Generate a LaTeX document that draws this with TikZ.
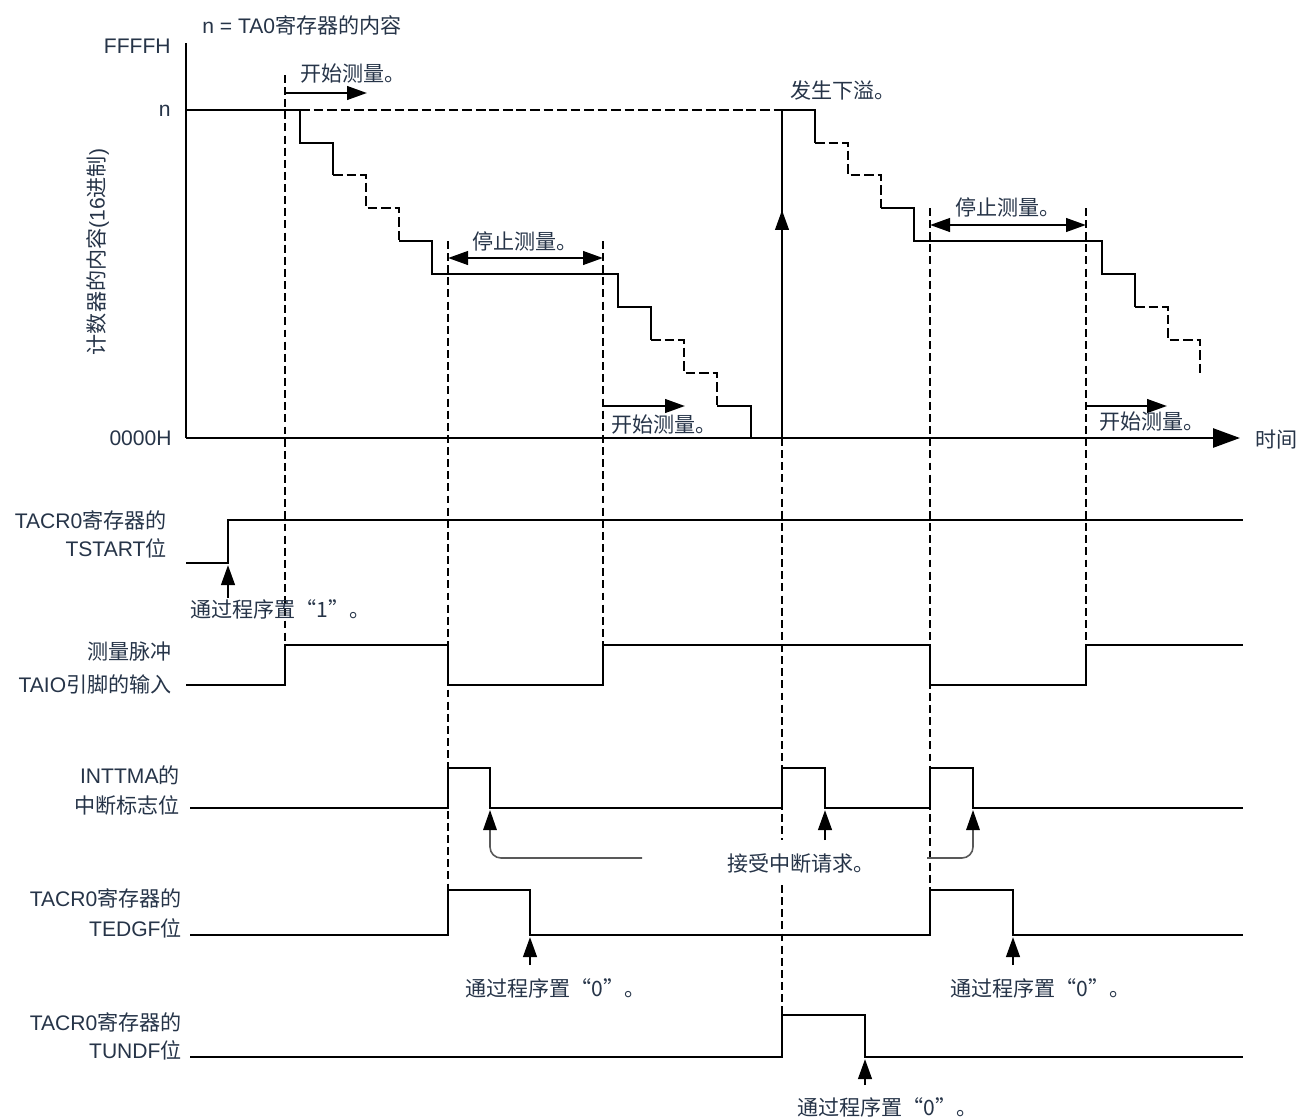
\documentclass[tikz,border=0pt]{standalone}
\usepackage{fontspec}
\setmainfont{Liberation Sans}
\newfontfamily\cjk{Noto Sans CJK SC}
\usetikzlibrary{arrows.meta}
\definecolor{labelblue}{RGB}{38,52,72}

\begin{document}
\begin{tikzpicture}[x=0.02cm,y=-0.02cm,
  sig/.style={line width=1.5pt,line join=miter},
  guide/.style={line width=1.5pt,dash pattern=on 4.5pt off 2.4pt},
  stair/.style={line width=1.5pt,dash pattern=on 5.5pt off 2.2pt},
  lbl/.style={text=labelblue,font=\fontsize{12}{14}\selectfont,inner sep=0pt},
  tip/.style={-{Triangle[length=0.4cm,width=0.27cm]}},
  both/.style={{Triangle[length=0.4cm,width=0.27cm]}-{Triangle[length=0.4cm,width=0.27cm]}},
  hook/.style={line width=0.9pt,draw=black!65,rounded corners=0.22cm,
    -{Triangle[length=0.4cm,width=0.27cm,color=black]}}
]
\useasboundingbox (0,0) rectangle (1297,1119);

% counter axes
\coordinate (origin) at (186,438);
\coordinate (top) at (186,43);
\coordinate (tend) at (1240,438);
\draw[sig] (top) -- (origin);
\draw[sig,-{Triangle[length=0.54cm,width=0.38cm]}] (origin) -- (tend);
\node[lbl,anchor=east] (ffff) at (171,46) {FFFFH};
\node[lbl,anchor=east] (nval) at (171,111) {n};
\node[lbl,anchor=east] (zero) at (172,438) {0000H};
\node[lbl,anchor=west] (nreg) at (202,25) {n = TA0{\cjk 寄存器的内容}};
\node[lbl,anchor=west] (time) at (1255,440) {{\cjk 时间}};
\node[lbl,rotate=90] (yname) at (98,252) {{\cjk 计数器的内容}(16{\cjk 进制})};

% count down
\draw[sig] (186,110) -- (300,110) -- (300,143) -- (333,143) -- (333,175);
\draw[stair] (300,110) -- (782,110);
\draw[stair] (333,175) -- (366,175) -- (366,208) -- (399,208) -- (399,241);
\draw[sig] (399,241) -- (432,241) -- (432,274) -- (618,274) -- (618,307) -- (651,307) -- (651,340);
\draw[stair] (651,340) -- (684,340) -- (684,373) -- (717,373) -- (717,406);
\draw[sig] (717,406) -- (751,406) -- (751,438);
\draw[sig] (782,438) -- (782,110) -- (815,110) -- (815,143);
\draw[sig,tip] (782,438) -- (782,210);
\draw[stair] (815,143) -- (848,143) -- (848,175) -- (881,175) -- (881,208);
\draw[sig] (881,208) -- (914,208) -- (914,241) -- (1102,241) -- (1102,274) -- (1135,274) -- (1135,307);
\draw[stair] (1135,307) -- (1168,307) -- (1168,340) -- (1200,340) -- (1200,375);
\node[lbl,anchor=west] (under) at (790,90) {{\cjk 发生下溢。}};

% guide lines
\draw[guide] (285,75) -- (285,645);
\draw[guide] (448,241) -- (448,890);
\draw[guide] (603,241) -- (603,645);
\draw[guide] (782,438) -- (782,840);
\draw[guide] (782,885) -- (782,1015);
\draw[guide] (930,208) -- (930,890);
\draw[guide] (1086,208) -- (1086,645);

% measurement marks
\draw[sig,tip] (285,93) -- (367,93);
\node[lbl,anchor=west] (start1) at (300,74) {{\cjk 开始测量。}};
\draw[sig,both] (448,258) -- (603,258);
\node[lbl] (stop1) at (525,241) {{\cjk 停止测量。}};
\draw[sig,tip] (603,406) -- (685,406);
\node[lbl,anchor=west] (start2) at (611,425) {{\cjk 开始测量。}};
\draw[sig,both] (930,225) -- (1086,225);
\node[lbl] (stop2) at (1008,207) {{\cjk 停止测量。}};
\draw[sig,tip] (1086,406) -- (1167,406);
\node[lbl,anchor=west] (start3) at (1099,422) {{\cjk 开始测量。}};

% TSTART
\node[lbl,anchor=east] (tsa) at (167,520) {TACR0{\cjk 寄存器的}};
\node[lbl,anchor=east] (tsb) at (167,548) {TSTART{\cjk 位}};
\draw[sig] (186,563) -- (228,563) -- (228,520) -- (1243,520);
\draw[sig,tip] (228,598) -- (228,565);
\node[lbl,anchor=west] (set1) at (190,609) {{\cjk 通过程序置“1”。}};

% TAIO
\node[lbl,anchor=east] (tia) at (172,652) {{\cjk 测量脉冲}};
\node[lbl,anchor=east] (tib) at (172,684) {TAIO{\cjk 引脚的输入}};
\draw[sig] (186,685) -- (285,685) -- (285,645) -- (448,645) -- (448,685) -- (603,685) -- (603,645)
  -- (930,645) -- (930,685) -- (1086,685) -- (1086,645) -- (1243,645);

% INTTMA
\node[lbl,anchor=east] (ima) at (180,775) {INTTMA{\cjk 的}};
\node[lbl,anchor=east] (imb) at (180,805) {{\cjk 中断标志位}};
\draw[sig] (190,808) -- (448,808) -- (448,768) -- (490,768) -- (490,808) -- (782,808) -- (782,768)
  -- (825,768) -- (825,808) -- (930,808) -- (930,768) -- (973,768) -- (973,808) -- (1243,808);
\draw[hook] (642,858) -| (490,810);
\draw[sig,tip] (825,840) -- (825,810);
\draw[hook] (927,858) -| (973,810);
\node[lbl,anchor=west] (accept) at (727,863) {{\cjk 接受中断请求。}};

% TEDGF
\node[lbl,anchor=east] (tea) at (182,898) {TACR0{\cjk 寄存器的}};
\node[lbl,anchor=east] (teb) at (182,928) {TEDGF{\cjk 位}};
\draw[sig] (190,935) -- (448,935) -- (448,890) -- (530,890) -- (530,935) -- (930,935) -- (930,890)
  -- (1013,890) -- (1013,935) -- (1243,935);
\draw[sig,tip] (530,965) -- (530,937);
\draw[sig,tip] (1013,965) -- (1013,937);
\node[lbl,anchor=west] (clr1) at (465,988) {{\cjk 通过程序置“0”。}};
\node[lbl,anchor=west] (clr2) at (950,988) {{\cjk 通过程序置“0”。}};

% TUNDF
\node[lbl,anchor=east] (tua) at (182,1022) {TACR0{\cjk 寄存器的}};
\node[lbl,anchor=east] (tub) at (182,1050) {TUNDF{\cjk 位}};
\draw[sig] (190,1057) -- (782,1057) -- (782,1015) -- (865,1015) -- (865,1057) -- (1243,1057);
\draw[sig,tip] (865,1085) -- (865,1059);
\node[lbl,anchor=west] (clr3) at (797,1107) {{\cjk 通过程序置“0”。}};
\end{tikzpicture}
\end{document}
